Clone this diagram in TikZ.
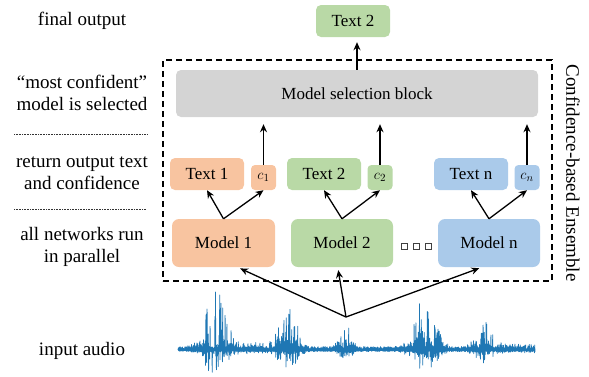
\documentclass[tikz,border=0pt]{standalone}
\usepackage{fontspec}
\setmainfont{Liberation Serif}
\usetikzlibrary{arrows.meta}
\definecolor{peach}{HTML}{F8C4A0}
\definecolor{leaf}{HTML}{B9D9A6}
\definecolor{sky}{HTML}{AACAEA}
\definecolor{selgray}{HTML}{D4D4D4}
\definecolor{wavecol}{HTML}{1F77B4}
\tikzset{
  blk/.style={rounded corners=5pt, inner sep=0pt, font=\fontsize{17}{20}\selectfont},
  conf/.style={rounded corners=4pt, inner sep=0pt, minimum width=25pt, minimum height=25pt, font=\fontsize{15}{18}\selectfont},
  lbl/.style={align=center, font=\fontsize{19}{22}\selectfont},
  arr/.style={-{Stealth[length=8pt,width=7pt]}, line width=1.3pt},
  sep/.style={dash pattern=on 0.8pt off 0.8pt, line width=0.5pt, black!80},
  ensbox/.style={draw, dash pattern=on 6pt off 4pt, line width=1.2pt, inner sep=0pt},
  dotbox/.style={draw=black!75, line width=0.7pt, minimum size=6pt, inner sep=0pt},
  wave/.style={wavecol, line width=0.75pt, line join=round}
}
\begin{document}
\begin{tikzpicture}[x=1pt,y=-1pt,
  declare function={env(\q)=58*exp(-min(((\q-216)/14)^2,20))+40*exp(-min(((\q-288)/12)^2,20))
    +25*exp(-min(((\q-345)/8)^2,20))+52*exp(-min(((\q-425)/14)^2,20))+30*exp(-min(((\q-483)/10)^2,20))
    +6*exp(-min(((\q-252)/14)^2,20))+4*(\q>490);}]
\useasboundingbox (0,0) rectangle (589,376);
% left column
\node[lbl] (lfin) at (82,21) {final output};
\node[lbl] (lsel) at (82,93) {“most confident”\\model is selected};
\node[lbl] (lret) at (82,173) {return output text\\and confidence};
\node[lbl] (lrun) at (82,247) {all networks run\\in parallel};
\node[lbl] (laud) at (82,351) {input audio};
\draw[sep] (14,134) -- (148,134);
\draw[sep] (14,209) -- (146,209);
% ensemble
\node[ensbox, minimum width=389pt, minimum height=221pt] (ens) at (357.5,170.5) {};
\node[lbl, rotate=-90] (lens) at (573,173) {Confidence-based Ensemble};
\node[blk, fill=leaf, minimum width=74pt, minimum height=32pt] (out) at (353,21) {Text 2};
\node[blk, fill=selgray, minimum width=362pt, minimum height=47pt] (sel) at (357,93.5) {Model selection block};
\node[blk, fill=peach, minimum width=74pt, minimum height=32pt] (text1) at (207,174) {Text 1};
\node[conf, fill=peach] (c1) at (263.5,177.5) {$c_1$};
\node[blk, fill=leaf, minimum width=74pt, minimum height=32pt] (text2) at (324,174) {Text 2};
\node[conf, fill=leaf] (c2) at (380,177.5) {$c_2$};
\node[blk, fill=sky, minimum width=74pt, minimum height=32pt] (textn) at (471,174) {Text n};
\node[conf, fill=sky] (cn) at (527,177.5) {$c_n$};
\node[blk, fill=peach, rounded corners=7pt, minimum width=103pt, minimum height=48pt] (model1) at (223.5,243) {Model 1};
\node[blk, fill=leaf, rounded corners=7pt, minimum width=102pt, minimum height=48pt] (model2) at (342,243) {Model 2};
\node[blk, fill=sky, rounded corners=7pt, minimum width=102pt, minimum height=48pt] (modeln) at (489,243) {Model n};
\foreach \x [count=\k] in {404,416,428}
  \node[dotbox] (dot\k) at (\x,246) {};
% arrows
\draw[arr, shorten >=5pt] (sel.north) -- (sel.north |- out.south);
\foreach \m in {1,2,n} {
  \draw[arr] (model\m.north) -- (text\m.south);
  \draw[arr] (model\m.north) -- (c\m.south);
  \draw[arr, shorten >=7pt] (c\m.north) -- (c\m.north |- sel.south);
}
\coordinate (src) at (346,317);
\draw[arr, shorten >=3pt] (src) -- (model1.-60);
\draw[arr, shorten >=3pt] (src) -- (model2.-100);
\draw[arr, shorten >=3pt] (src) -- (modeln.-106);
% audio
\pgfmathsetseed{11}
\draw[wave] (178,350) \foreach \i in {1,...,1190}{ -- ({178+\i*0.3},{350-(1+2.5*rnd+env(178+\i*0.3)*pow(rnd,2.4))*(isodd(\i) ? 1 : -0.45)}) };
\end{tikzpicture}
\end{document}
